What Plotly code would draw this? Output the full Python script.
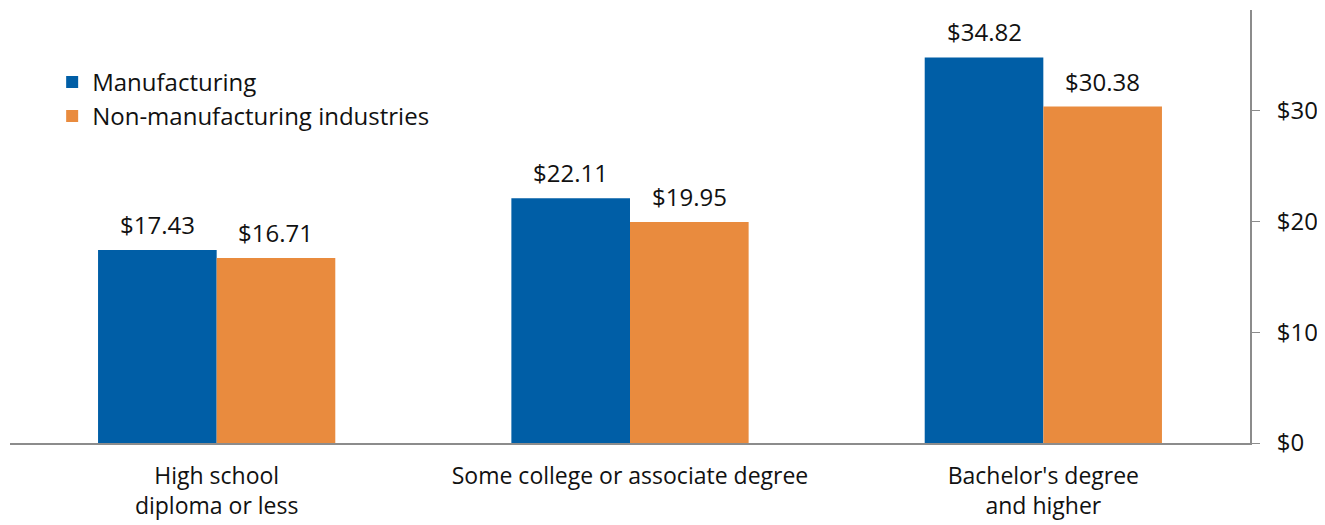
import plotly.graph_objects as go

categories = ["High school<br>diploma or less", "Some college or associate degree", "Bachelor's degree<br>and higher"]
manufacturing = [17.43, 22.11, 34.82]
non_manufacturing = [16.71, 19.95, 30.38]
tick_vals = [0, 10, 20, 30]
tick_text = ["$0", "$10", "$20", "$30"]

font_family = "Open Sans, Lato, sans-serif"
FS = 24
BARGAP = 0.426

fig = go.Figure()
fig.add_trace(go.Bar(
    x=categories, y=manufacturing, name="Manufacturing", legendgroup="m",
    marker=dict(color="#005EA6", line=dict(width=0)),
))
fig.add_trace(go.Bar(
    x=categories, y=non_manufacturing, name="Non-manufacturing industries", legendgroup="n",
    marker=dict(color="#E98B3E", line=dict(width=0)),
))

# value labels above bars, positioned through the category axis
half = (1 - BARGAP) / 4
for i, (m, n) in enumerate(zip(manufacturing, non_manufacturing)):
    for off, v in ((-half, m), (half, n)):
        fig.add_annotation(x=i + off, y=v, xref="x", yref="y", text=f"${v:.2f}",
                           showarrow=False, yanchor="bottom", yshift=7,
                           font=dict(size=FS, color="#111111", family=font_family))

fig.update_layout(
    width=1325, height=525,
    margin=dict(l=2, r=83, t=2, b=90),
    paper_bgcolor="white", plot_bgcolor="white",
    barmode="group", bargap=BARGAP, bargroupgap=0,
    font=dict(family=font_family, size=FS, color="#111111"),
    showlegend=True,
    legend=dict(x=0.034, y=0.885, xanchor="left", yanchor="top",
                font=dict(size=FS, family=font_family), bgcolor="rgba(0,0,0,0)",
                itemwidth=30, tracegroupgap=5, traceorder="normal"),
    xaxis=dict(showline=True, linecolor="#8c8c8c", linewidth=2,
               ticks="", tickfont=dict(size=FS - 1), showgrid=False,
               ticklabelstandoff=11, automargin=False),
    yaxis=dict(side="right", range=[0, 39.1], showline=True, linecolor="#8c8c8c",
               linewidth=2, ticks="outside", ticklen=8, tickcolor="#8c8c8c",
               tickvals=tick_vals, ticktext=tick_text, showgrid=False,
               ticklabelstandoff=12,
               zeroline=False, tickfont=dict(size=FS), automargin=False),
)

fig.write_html("out.html")
